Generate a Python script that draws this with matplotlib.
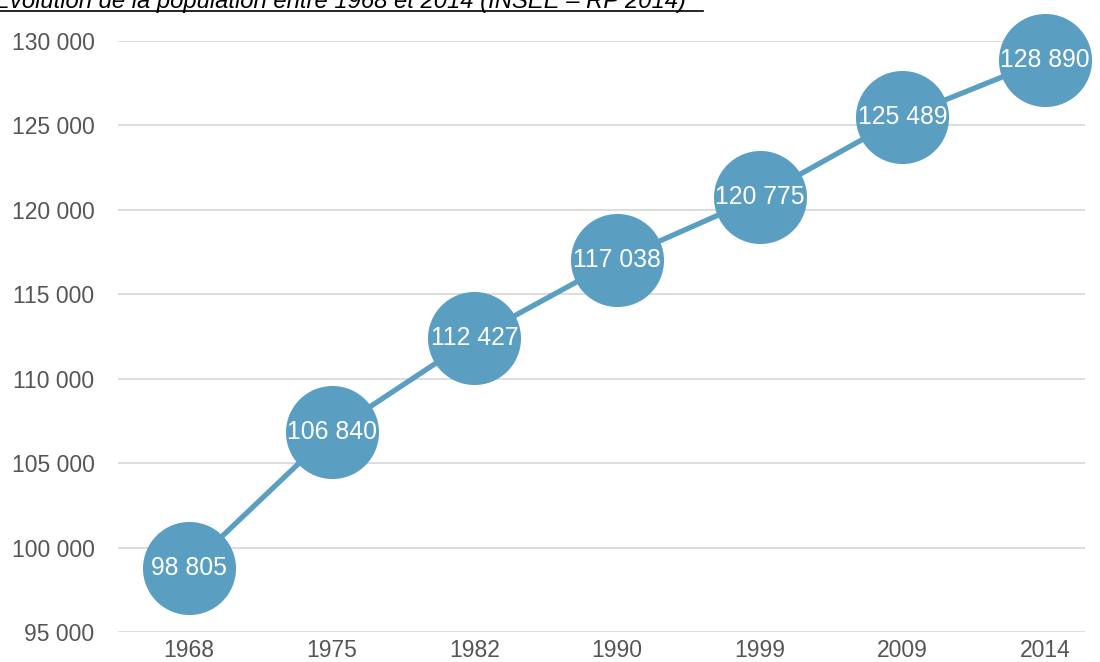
import matplotlib
matplotlib.use("Agg")
import matplotlib.pyplot as plt
from matplotlib.lines import Line2D

# Données
annees = ["1968", "1975", "1982", "1990", "1999", "2009", "2014"]
population = [98805, 106840, 112427, 117038, 120775, 125489, 128890]
graduations = [95000, 100000, 105000, 110000, 115000, 120000, 125000, 130000]

def fmt(v):
    return f"{v:,}".replace(",", " ")

plt.rcParams['font.family'] = ['Liberation Sans', 'DejaVu Sans']

fig = plt.figure(figsize=(11, 6.62), dpi=100)
ax = fig.add_axes([118/1100, 30/662, (1085-118)/1100, (632-41)/662])

bleu = '#5a9fc2'
x = list(range(len(annees)))
ax.plot(x, population, color=bleu, linewidth=3.8, zorder=2,
        marker='o', markersize=67, markeredgewidth=0, clip_on=False)
for xi, v in zip(x, population):
    ax.text(xi, v, fmt(v), color='white', fontsize=17.8, ha='center', va='center',
            zorder=3, clip_on=False)

ax.set_xlim(-0.498, 6.28)
ax.set_ylim(95000, 130000)
ax.set_yticks(graduations)
ax.set_yticklabels([fmt(g) for g in graduations])
ax.set_xticks(x)
ax.set_xticklabels(annees)
ax.tick_params(length=0, labelsize=16.5, colors='#555555')
ax.tick_params(axis='y', pad=17)
ax.tick_params(axis='x', pad=5)
ax.grid(axis='y', color='#dddddd', linewidth=1.4)
ax.set_axisbelow(True)
for s in ax.spines.values():
    s.set_visible(False)

# Titre coupé en haut
fig.text(-6, 662 - 8, "Évolution de la population entre 1968 et 2014 (INSEE – RP 2014)",
         transform=None, fontsize=17.2, fontstyle='italic', color='black',
         ha='left', va='baseline')
fig.add_artist(Line2D([0, 703/1100], [1 - 11/662, 1 - 11/662], transform=fig.transFigure,
                      color='black', linewidth=1.2))

fig.savefig("out.png", dpi=100)
